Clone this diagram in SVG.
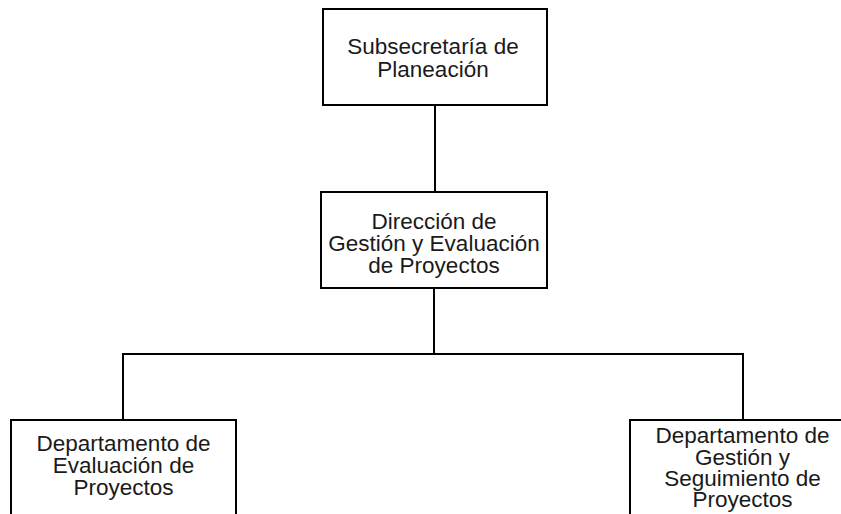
<svg xmlns="http://www.w3.org/2000/svg" width="841" height="514" viewBox="0 0 841 514">
<style>
.box{fill:#fff;stroke:#000;stroke-width:2}
.lbl{font-family:"Liberation Sans",Arial,sans-serif;font-size:22.5px;fill:#1a1a1a;text-anchor:middle}
.conn{fill:none;stroke:#000;stroke-width:2}
</style>
<rect width="841" height="514" fill="#fff"/>
<g id="connectors">
<line class="conn" x1="435" y1="105" x2="435" y2="192"/>
<line class="conn" x1="434" y1="288" x2="434" y2="354"/>
<polyline class="conn" points="123,420 123,354 743,354 743,420"/>
</g>
<g id="subsecretaria">
<rect class="box" x="323" y="9" width="224" height="96"/>
<text class="lbl" x="433" y="54">Subsecretaría de</text>
<text class="lbl" x="433" y="77">Planeación</text>
</g>
<g id="direccion">
<rect class="box" x="321" y="192" width="226" height="96"/>
<text class="lbl" x="434" y="229">Dirección de</text>
<text class="lbl" x="434" y="251">Gestión y Evaluación</text>
<text class="lbl" x="434" y="273">de Proyectos</text>
</g>
<g id="depto-evaluacion">
<rect class="box" x="11" y="420" width="225" height="120"/>
<text class="lbl" x="123.5" y="451">Departamento de</text>
<text class="lbl" x="123.5" y="473">Evaluación de</text>
<text class="lbl" x="123.5" y="495">Proyectos</text>
</g>
<g id="depto-gestion">
<rect class="box" x="630" y="420" width="225" height="120"/>
<text class="lbl" x="742.5" y="443">Departamento de</text>
<text class="lbl" x="742.5" y="464.5">Gestión y</text>
<text class="lbl" x="742.5" y="486">Seguimiento de</text>
<text class="lbl" x="742.5" y="507">Proyectos</text>
</g>
</svg>
